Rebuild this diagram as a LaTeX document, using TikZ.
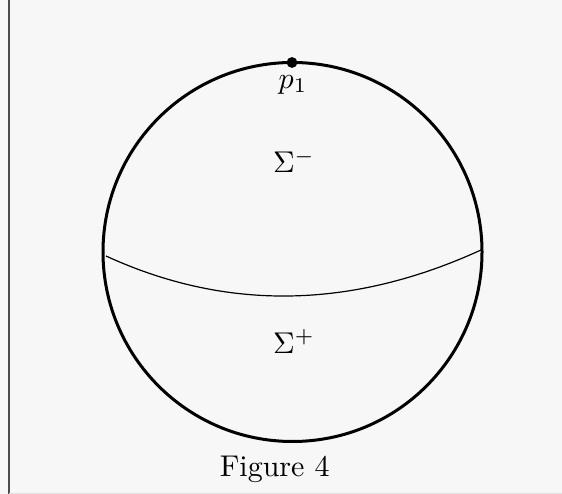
\documentclass[tikz,border=0pt]{standalone}
\begin{document}
\begin{tikzpicture}[x=0.3333pt,y=-0.3333pt,
  rim/.style={line width=1pt},
  cut/.style={line width=0.4pt},
  lbl/.style={anchor=base,inner sep=0pt}]
\fill[black!3] (0,0) rectangle (562,494);
\useasboundingbox (0,0) rectangle (562,494);
\draw[black!70,line width=0.6pt] (9,0) -- (9,494);
\draw[black!12,line width=0.4pt] (9,493.4) -- (562,493.4);
\coordinate (O) at (292.5,252);
\draw[rim] (O) circle[radius=189.5];
\coordinate (L) at (106,256);
\coordinate (R) at (481,250);
\draw[cut] (L) .. controls (226.3,311.3) and (351.3,309.3) .. (R);
\node[circle,fill=black,inner sep=0pt,minimum size=3.6pt] (p) at (292,62.5) {};
\node[lbl] (pl) at (293,88.5) {$p_1$};
\node[lbl] (sm) at (294,173) {$\Sigma^-$};
\node[lbl] (sp) at (294,353.3) {$\Sigma^+$};
\node[lbl] (cap) at (274.7,476.7) {Figure 4};
\end{tikzpicture}
\end{document}
